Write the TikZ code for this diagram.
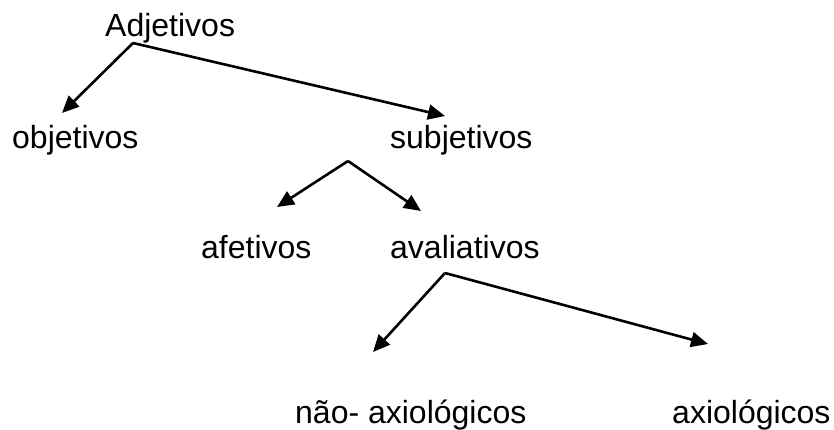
\documentclass[tikz,border=0pt]{standalone}
\usepackage{fontspec}
\setmainfont{Liberation Sans}
\usetikzlibrary{arrows.meta}
\begin{document}
\begin{tikzpicture}[x=1pt,y=-1pt,
  lbl/.style={anchor=base west,inner sep=0pt,font=\fontsize{32}{36}\selectfont},
  conn/.style={line width=2.6pt,-{Triangle[length=17pt,width=15pt]}}]
\useasboundingbox (0,0) rectangle (834,430);
\node[lbl] (adj) at (105,37) {Adjetivos};
\node[lbl] (obj) at (12,149) {objetivos};
\node[lbl] (sub) at (390,149) {subjetivos};
\node[lbl] (afe) at (201,258) {afetivos};
\node[lbl] (ava) at (390,258) {avaliativos};
\node[lbl] (nax) at (295,423) {não- axiológicos};
\node[lbl] (axi) at (672,423) {axiológicos};
\coordinate (adjS) at (133,43);
\coordinate (objT) at (62,113);
\coordinate (subT) at (445,116);
\coordinate (subS) at (348,161);
\coordinate (afeT) at (277,207);
\coordinate (avaT) at (421,211);
\coordinate (avaS) at (445,273);
\coordinate (naxT) at (373,352);
\coordinate (axiT) at (708,344);
\draw[conn] (adjS) -- (objT);
\draw[conn] (adjS) -- (subT);
\draw[conn] (subS) -- (afeT);
\draw[conn] (subS) -- (avaT);
\draw[conn] (avaS) -- (naxT);
\draw[conn] (avaS) -- (axiT);
\end{tikzpicture}
\end{document}
